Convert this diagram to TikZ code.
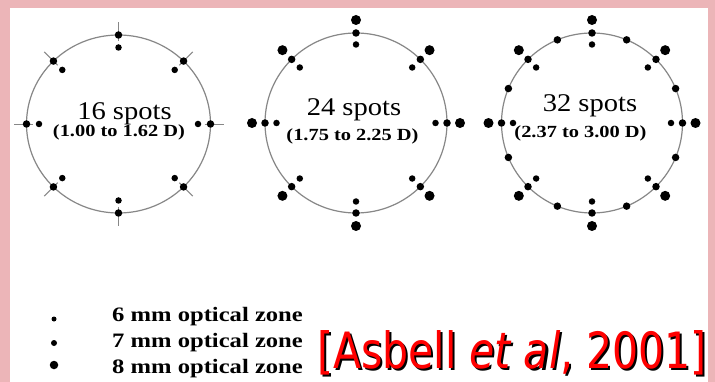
\documentclass[tikz,border=0pt]{standalone}
\usepackage{fontspec}
\setmainfont{Liberation Serif}
\newfontfamily\citefont{DejaVu Sans}
\usepackage{graphicx}
\usepackage{xcolor}
\usepackage{tikz}
\usetikzlibrary{positioning}
\definecolor{slidepink}{RGB}{236,181,184}
\definecolor{ringgray}{RGB}{135,135,135}
\newcommand{\shadowed}[1]{\makebox[0pt][l]{\kern2.5pt\raisebox{-2.5pt}{\color{black}#1}}{\color{red}#1}}

\begin{document}
\begin{tikzpicture}[x=1pt, y=-1pt,
  ring/.style={draw=ringgray, line width=1.2pt},
  tick/.style={draw=ringgray, line width=0.9pt},
  spotsix/.style={circle, fill=black, inner sep=0pt, minimum size=6.5pt},
  spotseven/.style={circle, fill=black, inner sep=0pt, minimum size=7.5pt},
  spoteight/.style={circle, fill=black, inner sep=0pt, minimum size=10pt},
  spotcount/.style={font=\fontsize{25.5}{25.5}\selectfont, inner sep=0pt, anchor=base},
  dioptre/.style={font=\fontsize{17}{17}\selectfont\bfseries, inner sep=0pt, anchor=base},
  zone/.style={font=\fontsize{20.5}{20.5}\selectfont\bfseries, inner sep=0pt, anchor=base west},
  citation/.style={font=\citefont\fontsize{50}{50}\selectfont, inner sep=0pt, anchor=base west},
]
\useasboundingbox (0,0) rectangle (715,382);
\fill[slidepink] (0,0) rectangle (715,382);
\fill[white] (10,8) rectangle (708,382);

% 16 spots
\begin{scope}[shift={(118.5,124)}]
\draw[ring] (0,0) ellipse [x radius=92, y radius=89];
\foreach \a in {0,45,...,315} {
  \draw[tick] (\a:86 and 83) -- (\a:105 and 102);
  \node[spotseven] (ra\a) at (\a:92 and 89) {};
  \node[spotsix] (rb\a) at (\a:79.5 and 76.5) {};
}
\end{scope}
\node[spotcount] (n16) at (124.5,120) {\scalebox{1.12}[1]{16 spots}};
\node[dioptre] (d16) at (119,137) {\scalebox{1.2}[1]{(1.00 to 1.62 D)}};

% 24 spots
\begin{scope}[shift={(356,123)}]
\draw[ring] (0,0) ellipse [x radius=91, y radius=90];
\foreach \a in {0,45,...,315} {
  \node[spoteight] (sa\a) at (\a:104 and 103) {};
  \node[spotseven] (sb\a) at (\a:91 and 90) {};
  \node[spotsix] (sc\a) at (\a:79.5 and 78.5) {};
}
\end{scope}
\node[spotcount] (n24) at (354,115.5) {\scalebox{1.12}[1]{24 spots}};
\node[dioptre] (d24) at (352.5,140.5) {\scalebox{1.2}[1]{(1.75 to 2.25 D)}};

% 32 spots
\begin{scope}[shift={(592,123)}]
\draw[ring] (0,0) ellipse [x radius=90.5, y radius=90];
\foreach \a in {0,45,...,315} {
  \node[spoteight] (ta\a) at (\a:103.5 and 103) {};
  \node[spotseven] (tb\a) at (\a:90.5 and 90) {};
  \node[spotsix] (tc\a) at (\a:79 and 78.5) {};
}
\foreach \a [count=\i] in {22.5,67.5,...,337.5}
  \node[spotseven] (te\i) at (\a:90.5 and 90) {};
\end{scope}
\node[spotcount] (n32) at (590,111.5) {\scalebox{1.12}[1]{32 spots}};
\node[dioptre] (d32) at (580.5,137.5) {\scalebox{1.2}[1]{(2.37 to 3.00 D)}};

% legend
\node[spotsix, minimum size=5pt] (k6) at (54,319) {};
\node[spotseven, minimum size=6pt] (k7) at (54,343) {};
\node[spoteight, minimum size=8.5pt] (k8) at (54,365) {};
\node[zone] (z6) at (112,321) {\scalebox{1.2}[1]{6 mm optical zone}};
\node[zone] (z7) at (112,347) {\scalebox{1.2}[1]{7 mm optical zone}};
\node[zone] (z8) at (112,373) {\scalebox{1.2}[1]{8 mm optical zone}};

\node[citation] (cite) at (317,368) {\scalebox{0.82}[1]{\shadowed{[Asbell \textit{et al}, 2001]}}};
\end{tikzpicture}
\end{document}
